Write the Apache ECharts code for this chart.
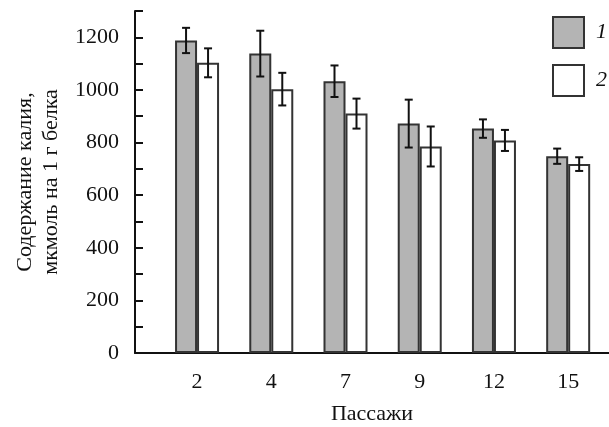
<!DOCTYPE html>
<html>
<head>
<meta charset="utf-8">
<script src="https://cdn.jsdelivr.net/npm/echarts@6/dist/echarts.min.js"></script>
<style>
  html, body { margin: 0; padding: 0; background: #fff; }
  #chart { width: 609px; height: 427px; }
</style>
</head>
<body>
<div id="chart"></div>
<script>
const passages = ["2", "4", "7", "9", "12", "15"];
const group1 = [1188, 1138, 1033, 872, 853, 748];
const err1 = [48, 87, 60, 91, 35, 29];
const group2 = [1103, 1003, 910, 785, 808, 718];
const err2 = [55, 62, 57, 76, 40, 26];
const yTicks = [0, 200, 400, 600, 800, 1000, 1200];

const font = "Liberation Serif";
const ink = "#111";
const barW = 22;

const chart = echarts.init(document.getElementById("chart"));

const idx = passages.map((_, i) => i);

// error bars drawn with a custom series, offset to the centre of each bar
const errorSeries = (vals, errs, shift) => ({
  type: "custom",
  silent: true,
  z: 5,
  data: idx.map((i) => [i, vals[i], errs[i]]),
  renderItem: (params, api) => {
    const i = api.value(0);
    const v = api.value(1);
    const e = api.value(2);
    const hi = api.coord([i, v + e]);
    const lo = api.coord([i, v - e]);
    const x = hi[0] + shift;
    const cap = 4;
    const style = { stroke: ink, lineWidth: 2 };
    return {
      type: "group",
      children: [
        { type: "line", shape: { x1: x, y1: hi[1], x2: x, y2: lo[1] }, style },
        { type: "line", shape: { x1: x - cap, y1: hi[1], x2: x + cap, y2: hi[1] }, style },
        { type: "line", shape: { x1: x - cap, y1: lo[1], x2: x + cap, y2: lo[1] }, style },
      ],
    };
  },
});

const option = {
  animation: false,
  grid: { left: 135, right: 0, top: 11, bottom: 74, outerBoundsMode: "none" },
  legend: {
    orient: "vertical",
    left: 547,
    top: 11,
    itemWidth: 31,
    itemHeight: 31,
    itemGap: 15,
    icon: "rect",
    data: ["1", "2"],
    itemStyle: { borderColor: "#333", borderWidth: 2 },
    textStyle: {
      fontFamily: font,
      fontStyle: "italic",
      fontSize: 22,
      color: ink,
      padding: [0, 0, 0, 7],
    },
  },
  xAxis: {
    type: "value",
    min: -0.836,
    max: 5.55,
    name: "Пассажи",
    nameLocation: "middle",
    nameGap: 50,
    nameTextStyle: { fontFamily: font, fontSize: 22, color: ink },
    axisLine: { onZero: false, lineStyle: { color: ink, width: 2 } },
    axisTick: { show: false },
    splitLine: { show: false },
    axisLabel: {
      customValues: idx,
      formatter: (v) => passages[Math.round(v)],
      fontFamily: font,
      fontSize: 22,
      color: ink,
      margin: 18,
    },
  },
  yAxis: {
    type: "value",
    min: 0,
    max: 1300,
    interval: 100,
    name: "Содержание калия,\nмкмоль на 1 г белка",
    nameLocation: "middle",
    nameGap: 65,
    nameTextStyle: { fontFamily: font, fontSize: 22, color: ink, lineHeight: 26 },
    axisLine: { show: true, onZero: false, lineStyle: { color: ink, width: 2 } },
    axisTick: { show: true, inside: true, length: 8, lineStyle: { color: ink, width: 2 } },
    splitLine: { show: false },
    axisLabel: {
      formatter: (v) => (yTicks.includes(v) ? String(v) : ""),
      fontFamily: font,
      fontSize: 22,
      color: ink,
      margin: 16,
    },
  },
  series: [
    {
      name: "1",
      type: "bar",
      barWidth: barW,
      barGap: "0%",
      data: idx.map((i) => [i, group1[i]]),
      itemStyle: { color: "#b4b4b4", borderColor: "#333", borderWidth: 2 },
    },
    {
      name: "2",
      type: "bar",
      barWidth: barW,
      barGap: "0%",
      data: idx.map((i) => [i, group2[i]]),
      itemStyle: { color: "#fff", borderColor: "#333", borderWidth: 2 },
    },
    errorSeries(group1, err1, -barW / 2),
    errorSeries(group2, err2, barW / 2),
  ],
};

chart.setOption(option);
</script>
</body>
</html>
